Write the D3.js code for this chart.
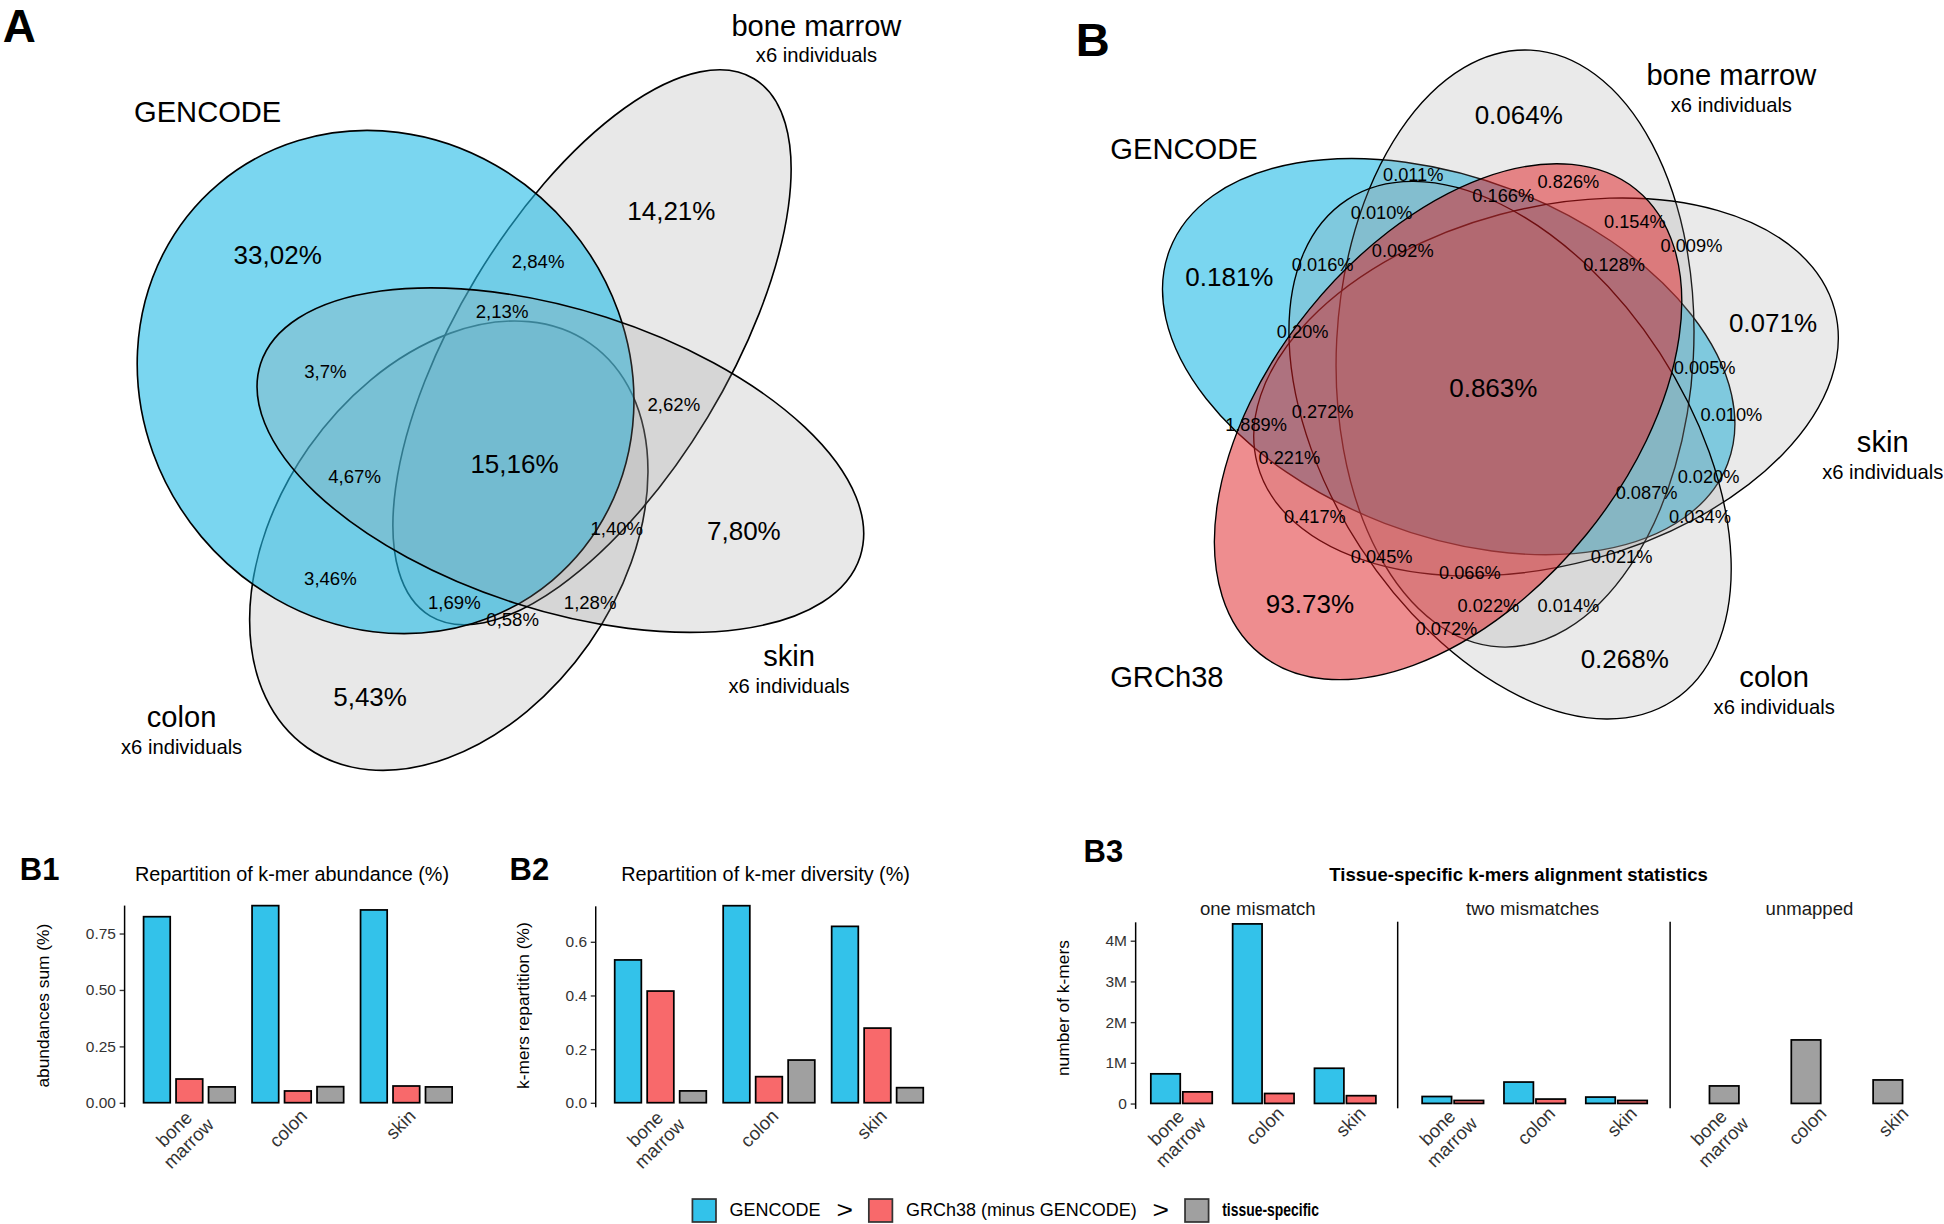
<!DOCTYPE html>
<html><head><meta charset="utf-8">
<script src="https://cdn.jsdelivr.net/npm/d3@7"></script>
<style>
html,body{margin:0;padding:0;background:#fff;}
svg{display:block;}
</style>
</head><body>
<svg id="chart"></svg>
<script>
// ================= DATA =================
const tissues = ["bone marrow", "colon", "skin"];
const kmerSources = ["GENCODE", "GRCh38 (minus GENCODE)", "tissue-specific"];

// B1 - repartition of k-mer abundance (%)
const abundanceGENCODE = [0.824, 0.873, 0.854];
const abundanceGRCh38 = [0.105, 0.052, 0.074];
const abundanceTissue = [0.070, 0.071, 0.070];
const abundanceTicks = [0, 0.25, 0.5, 0.75];

// B2 - repartition of k-mer diversity (%)
const diversityGENCODE = [0.532, 0.734, 0.657];
const diversityGRCh38 = [0.416, 0.097, 0.278];
const diversityTissue = [0.044, 0.159, 0.056];
const diversityTicks = [0, 0.2, 0.4, 0.6];

// B3 - tissue-specific k-mers alignment statistics
const alignmentFacets = ["one mismatch", "two mismatches", "unmapped"];
const oneMismatchGENCODE = [727000, 4410000, 864000];
const oneMismatchGRCh38 = [284000, 244000, 190000];
const twoMismatchGENCODE = [170000, 525000, 156000];
const twoMismatchGRCh38 = [73000, 107000, 73000];
const unmappedTissue = [430000, 1560000, 577000];
const alignmentTicks = [0, 1e6, 2e6, 3e6, 4e6];

// Venn A (GENCODE vs tissues)
const vennASets = ["GENCODE", "bone marrow", "skin", "colon"];
const vennASetNotes = ["", "x6 individuals", "x6 individuals", "x6 individuals"];
const vennARegionValues = ["33,02%", "14,21%", "2,84%", "2,13%", "3,7%", "2,62%", "4,67%", "15,16%",
  "1,40%", "7,80%", "3,46%", "1,69%", "0,58%", "1,28%", "5,43%"];

// Venn B (GENCODE, GRCh38 vs tissues)
const vennBSets = ["GENCODE", "GRCh38", "bone marrow", "skin", "colon"];
const vennBSetNotes = ["", "", "x6 individuals", "x6 individuals", "x6 individuals"];
const vennBRegionValues = ["0.064%", "0.011%", "0.826%", "0.166%", "0.010%", "0.154%", "0.009%", "0.092%",
  "0.016%", "0.128%", "0.181%", "0.071%", "0.20%", "0.863%", "0.005%", "0.272%", "1.889%", "0.010%",
  "0.221%", "0.020%", "0.087%", "0.417%", "0.034%", "0.045%", "0.021%", "0.066%", "93.73%", "0.022%",
  "0.014%", "0.072%", "0.268%"];

// ================= LAYOUT / STYLE =================
const W = 1568, H = 987;
const FONT = '"Liberation Sans", Arial, Helvetica, sans-serif';
const BAR_COLORS = ["#33c2ea", "#f8696b", "#a0a0a0"];
const V_BLUE = "rgb(33,187,230)", V_RED = "rgb(222,28,32)", V_GRAY = "rgb(150,150,150)";

const svg = d3.select("#chart").attr("width", 1944).attr("height", 1224)
  .attr("viewBox", `0 0 ${W} ${H}`).style("font-family", FONT);
svg.append("rect").attr("width", W).attr("height", H).attr("fill", "#fff");

function txt(g, x, y, s, size, opts = {}) {
  return g.append("text").attr("x", x).attr("y", y).text(s)
    .attr("font-size", size).attr("text-anchor", opts.anchor || "middle")
    .attr("dominant-baseline", opts.baseline || "central")
    .attr("font-weight", opts.weight || "normal")
    .attr("fill", opts.fill || "#000");
}

// ---------- Venn A ----------
const vennAGeom = {
  "colon":       {cx: 362, cy: 440, rx: 199, ry: 138, rot: -55, fill: V_GRAY, op: 0.22},
  "bone marrow": {cx: 477.5, cy: 280, rx: 253, ry: 109, rot: -58.9, fill: V_GRAY, op: 0.22},
  "GENCODE":     {cx: 311, cy: 308, rx: 209, ry: 194, rot: 50, fill: V_BLUE, op: 0.6},
  "skin":        {cx: 452, cy: 371, rx: 254, ry: 121, rot: 17.8, fill: V_GRAY, op: 0.22}
};
const vennADrawOrder = ["colon", "bone marrow", "GENCODE", "skin"];
const vennASetLabelPos = [[167.5, 90.5], [658.5, 20.6], [636.5, 528.8], [146.5, 578.2]];
const vennARegionPos = [[224, 205.8, 21], [541.5, 170, 21], [434, 211.1, 15], [405, 251, 15], [262.5, 299.6, 15],
  [543.5, 325.9, 15], [286, 383.9, 15], [415, 374.5, 21], [497.5, 425.9, 15], [600, 428, 21], [266.5, 466.2, 15],
  [366.5, 485.6, 15], [413.5, 499.2, 15], [476, 485.6, 15], [298.5, 561.7, 21]];

const gA = svg.append("g");
vennADrawOrder.forEach(k => {
  const e = vennAGeom[k];
  gA.append("ellipse").attr("cx", e.cx).attr("cy", e.cy).attr("rx", e.rx).attr("ry", e.ry)
    .attr("transform", `rotate(${e.rot},${e.cx},${e.cy})`)
    .attr("fill", e.fill).attr("fill-opacity", e.op)
    .attr("stroke", "#000").attr("stroke-width", 1.3);
});
vennARegionValues.forEach((v, i) => txt(gA, vennARegionPos[i][0], vennARegionPos[i][1], v, vennARegionPos[i][2]));
vennASets.forEach((s, i) => {
  const p = vennASetLabelPos[i];
  txt(gA, p[0], p[1], s, 23.5);
  if (vennASetNotes[i]) txt(gA, p[0], p[1] + 24, vennASetNotes[i], 16.3);
});
txt(gA, 15.5, 33.6, "A", 37, {weight: "bold", baseline: "alphabetic"});

// ---------- Venn B ----------
const vB = {a: 241, b: 144};
const vennBGeom = {
  "GENCODE":     {cx: 1168.5, cy: 287.5, rot: 21, fill: V_BLUE, op: 0.6},
  "bone marrow": {cx: 1222, cy: 281, rot: 273, fill: V_GRAY, op: 0.2},
  "skin":        {cx: 1247, cy: 312, rot: -15, fill: V_GRAY, op: 0.2},
  "colon":       {cx: 1218, cy: 363, rot: 57, fill: V_GRAY, op: 0.2},
  "GRCh38":      {cx: 1168, cy: 340, rot: -51, fill: V_RED, op: 0.5}
};
const vennBDrawOrder = ["GENCODE", "bone marrow", "skin", "colon", "GRCh38"];
const vennBSetLabelPos = [[955, 120.3], [941.2, 546.3], [1396.5, 60.2], [1518.6, 356.2], [1431, 546.3]];
const vennBRegionPos = [[1225, 92.3, 21], [1139.9, 141.1, 14.7], [1265, 146.5, 14.7], [1212.5, 158, 14.7],
  [1114.4, 171.9, 14.7], [1318.7, 178.6, 14.7], [1364.3, 198.1, 14.7], [1131.4, 202.4, 14.7], [1066.8, 213.7, 14.7],
  [1301.9, 213.7, 14.7], [991.6, 223.1, 21], [1430.1, 260.7, 21], [1050.7, 267.5, 14.7], [1204.5, 313.2, 21],
  [1374.9, 296.8, 14.7], [1066.8, 332, 14.7], [1013.1, 342.8, 14.7], [1396.5, 334.9, 14.7], [1040, 369.6, 14.7],
  [1378.1, 384.3, 14.7], [1328.1, 397.3, 14.7], [1060.6, 416.7, 14.7], [1371.2, 417.1, 14.7], [1114.4, 448.9, 14.7],
  [1307.9, 448.9, 14.7], [1185.6, 461.8, 14.7], [1056.6, 487.1, 21], [1200.5, 488.7, 14.7], [1265, 488.7, 14.7],
  [1166.6, 507.4, 14.7], [1310.5, 531.5, 21]];

const gB = svg.append("g");
vennBDrawOrder.forEach(k => {
  const e = vennBGeom[k];
  gB.append("ellipse").attr("cx", e.cx).attr("cy", e.cy).attr("rx", vB.a).attr("ry", vB.b)
    .attr("transform", `rotate(${e.rot},${e.cx},${e.cy})`)
    .attr("fill", e.fill).attr("fill-opacity", e.op)
    .attr("stroke", "#000").attr("stroke-width", 1.1);
});
vennBRegionValues.forEach((v, i) => txt(gB, vennBRegionPos[i][0], vennBRegionPos[i][1], v, vennBRegionPos[i][2]));
vennBSets.forEach((s, i) => {
  const p = vennBSetLabelPos[i];
  txt(gB, p[0], p[1], s, 23.5);
  if (vennBSetNotes[i]) txt(gB, p[0], p[1] + 24, vennBSetNotes[i], 16.3);
});
txt(gB, 881.4, 32.1, "B", 38, {weight: "bold"});

// ---------- bar chart helpers ----------
function styleAxis(ag) {
  ag.attr("font-family", FONT).attr("font-size", 12.5);
  ag.select(".domain").attr("stroke", "#000").attr("stroke-width", 1.2);
  ag.selectAll(".tick line").attr("stroke", "#333").attr("stroke-width", 1.1);
  ag.selectAll(".tick text").attr("fill", "#333");
}

// lab: {sdx, sy, mdx, my} anchor offsets for single / multi-line labels
function xLabels(g, centers, lab) {
  tissues.forEach((t, i) => {
    const lines = t.split(" ");
    const multi = lines.length > 1;
    const ax = centers[i] + (multi ? lab.mdx : lab.sdx), ay = multi ? lab.my : lab.sy;
    const tg = g.append("text").attr("transform", `translate(${ax},${ay}) rotate(-45)`)
      .attr("font-size", 15).attr("fill", "#333").attr("text-anchor", "middle");
    const spans = lines.map((l, j) => tg.append("tspan").attr("x", 0).attr("dy", j === 0 ? "0.75em" : "1.1em").text(l));
    const maxLen = d3.max(spans, s => s.node().getComputedTextLength());
    spans.forEach(s => s.attr("x", -maxLen / 2));
  });
}

function barPanel(cfg) {
  const g = svg.append("g");
  const y = d3.scaleLinear().domain(cfg.yDomain).range([cfg.yBottom, cfg.yTop]);
  const x = d3.scaleBand().domain(tissues).range([cfg.axisX + 9, cfg.axisX + 9 + 262.5]);
  const inner = d3.scaleBand().domain(kmerSources).range([-39.3, 39.3]).paddingInner(0.18).paddingOuter(0.09);
  cfg.series.forEach((vals, si) => {
    g.selectAll(null).data(vals).join("rect")
      .attr("x", (d, i) => x(tissues[i]) + x.bandwidth() / 2 + inner(kmerSources[si]))
      .attr("y", d => y(d)).attr("width", inner.bandwidth()).attr("height", d => y(0) - y(d))
      .attr("fill", BAR_COLORS[si]).attr("stroke", "#000").attr("stroke-width", 1.4);
  });
  const ag = g.append("g").attr("transform", `translate(${cfg.axisX},0)`)
    .call(d3.axisLeft(y).tickValues(cfg.ticks).tickFormat(d3.format(cfg.fmt)).tickSize(3.5).tickSizeOuter(0).tickPadding(3));
  styleAxis(ag);
  xLabels(g, tissues.map(t => x(t) + x.bandwidth() / 2), {sdx: 0.5, sy: 893, mdx: 1, my: 888.5});
  txt(g, cfg.titleX, 704.5, cfg.title, 16);
  g.append("text").attr("transform", `translate(${cfg.yTitleX},811) rotate(-90)`)
    .attr("text-anchor", "middle").attr("dominant-baseline", "central").attr("font-size", 14)
    .attr("fill", "#000").text(cfg.yTitle);
  txt(g, cfg.tagX, 701, cfg.tag, 25, {weight: "bold", anchor: "start"});
}

barPanel({
  axisX: 100, yTop: 729.8, yBottom: 892.5, yDomain: [-0.0176, 0.876], ticks: abundanceTicks, fmt: ".2f",
  series: [abundanceGENCODE, abundanceGRCh38, abundanceTissue],
  title: "Repartition of k-mer abundance (%)", titleX: 235.5,
  yTitle: "abundances sum (%)", yTitleX: 34.4, tag: "B1", tagX: 16
});
barPanel({
  axisX: 480, yTop: 730.4, yBottom: 892.5, yDomain: [-0.0148, 0.734], ticks: diversityTicks, fmt: ".1f",
  series: [diversityGENCODE, diversityGRCh38, diversityTissue],
  title: "Repartition of k-mer diversity (%)", titleX: 617.5,
  yTitle: "k-mers repartition (%)", yTitleX: 422, tag: "B2", tagX: 411
});

// ---------- B3 faceted ----------
(function () {
  const g = svg.append("g");
  const yTop = 743.3, yBottom = 893.8;
  const y = d3.scaleLinear().domain([-0.1195e6, 4.464e6]).range([yBottom, yTop]);
  const panel = d3.scaleBand().domain(alignmentFacets).range([910, 910 + 3 * 218.85]);
  const grp = d3.scaleBand().domain(tissues).range([10, 208]);
  const facetSeries = [
    [{src: 0, vals: oneMismatchGENCODE}, {src: 1, vals: oneMismatchGRCh38}],
    [{src: 0, vals: twoMismatchGENCODE}, {src: 1, vals: twoMismatchGRCh38}],
    [{src: 2, vals: unmappedTissue}]
  ];
  const axisOffset = [5.5, -1.5, -0.6];
  const stripOffset = [104.5, 107.3, 111.8];
  alignmentFacets.forEach((f, fi) => {
    const px = panel(f);
    const series = facetSeries[fi];
    const half = 12.9 * series.length;
    const inner = d3.scaleBand().domain(series.map(s => kmerSources[s.src])).range([-half, half])
      .paddingInner(0.08).paddingOuter(0.04);
    series.forEach(s => {
      g.selectAll(null).data(s.vals).join("rect")
        .attr("x", (d, i) => px + grp(tissues[i]) + grp.bandwidth() / 2 + inner(kmerSources[s.src]))
        .attr("y", d => y(d)).attr("width", inner.bandwidth()).attr("height", d => y(0) - y(d))
        .attr("fill", BAR_COLORS[s.src]).attr("stroke", "#000").attr("stroke-width", 1.4);
    });
    const axX = px + axisOffset[fi];
    if (fi === 0) {
      const ag = g.append("g").attr("transform", `translate(${axX},0)`)
        .call(d3.axisLeft(y).tickValues(alignmentTicks).tickFormat(d => d === 0 ? "0" : (d / 1e6) + "M")
          .tickSize(3.5).tickSizeOuter(0).tickPadding(3));
      styleAxis(ag);
    } else {
      g.append("line").attr("x1", axX).attr("x2", axX).attr("y1", yBottom).attr("y2", yTop)
        .attr("stroke", "#000").attr("stroke-width", 1.2);
    }
    txt(g, px + stripOffset[fi], 732.5, f, 15, {fill: "#1a1a1a"});
    xLabels(g, tissues.map(t => px + grp(t) + grp.bandwidth() / 2), {sdx: 9.5, sy: 891, mdx: 1, my: 887.5});
  });
  txt(g, 1224.8, 705.6, "Tissue-specific k-mers alignment statistics", 15, {weight: "bold"});
  g.append("text").attr("transform", `translate(857.4,813) rotate(-90)`)
    .attr("text-anchor", "middle").attr("dominant-baseline", "central").attr("font-size", 14)
    .text("number of k-mers");
  txt(g, 874, 687, "B3", 25, {weight: "bold", anchor: "start"});
})();

// ---------- Legend ----------
(function () {
  const g = svg.append("g");
  let lx = 558.5;
  const ly = 967, sq = 19;
  kmerSources.forEach((s, i) => {
    g.append("rect").attr("x", lx).attr("y", ly).attr("width", sq).attr("height", sq - 0.5)
      .attr("fill", BAR_COLORS[i]).attr("stroke", "#333").attr("stroke-width", 1.4);
    lx += sq + 11;
    const t = txt(g, lx, ly + sq / 2 - 0.5, s, 14.5, {anchor: "start"});
    if (i === 2) t.attr("font-weight", "bold").attr("textLength", 78).attr("lengthAdjust", "spacingAndGlyphs");
    lx += t.node().getComputedTextLength();
    if (i < 2) {
      lx += 12.5;
      txt(g, lx + 7, 976, ">", 19).attr("transform", `translate(${lx + 7},976) scale(1.2,1) translate(${-(lx + 7)},-976)`);
      lx += 14.5 + 12;
    }
  });
})();
</script>
</body></html>
